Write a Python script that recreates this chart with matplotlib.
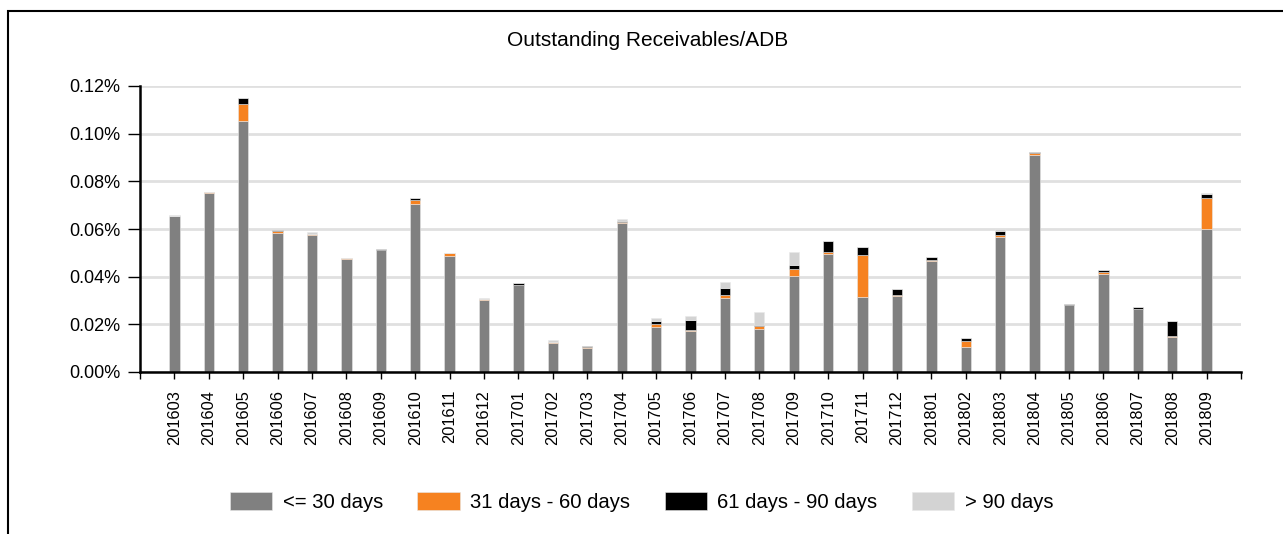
import matplotlib
matplotlib.use("Agg")
import matplotlib.pyplot as plt
import numpy as np
from matplotlib.patches import Rectangle

plt.rcParams['font.family'] = ['Liberation Sans', 'DejaVu Sans']

months = ['201603', '201604', '201605', '201606', '201607', '201608', '201609', '201610',
          '201611', '201612', '201701', '201702', '201703', '201704', '201705', '201706',
          '201707', '201708', '201709', '201710', '201711', '201712', '201801', '201802',
          '201803', '201804', '201805', '201806', '201807', '201808', '201809']

# values in percent
le30 = [0.0655, 0.0752, 0.1053, 0.0582, 0.0574, 0.0474, 0.0513, 0.0706, 0.0488, 0.0303,
        0.0364, 0.0123, 0.0099, 0.0627, 0.0189, 0.0172, 0.0312, 0.0180, 0.0404, 0.0496,
        0.0313, 0.0319, 0.0464, 0.0104, 0.0568, 0.0911, 0.0280, 0.0410, 0.0266, 0.0147, 0.0600]
d31_60 = [0.0, 0.0004, 0.0071, 0.0008, 0.0004, 0.0004, 0.0, 0.0017, 0.0010, 0.0005,
          0.0, 0.0004, 0.0005, 0.0004, 0.0014, 0.0004, 0.0013, 0.0013, 0.0027, 0.0006,
          0.0179, 0.0004, 0.0006, 0.0027, 0.0007, 0.0007, 0.0, 0.0011, 0.0, 0.0004, 0.0130]
d61_90 = [0.0, 0.0, 0.0025, 0.0006, 0.0003, 0.0, 0.0005, 0.0007, 0.0, 0.0,
          0.0008, 0.0, 0.0004, 0.0002, 0.0013, 0.0043, 0.0029, 0.0006, 0.0017, 0.0049,
          0.0034, 0.0025, 0.0013, 0.0010, 0.0018, 0.0004, 0.0007, 0.0006, 0.0005, 0.0063, 0.0018]
gt90 = [0.0002, 0.0, 0.0, 0.0, 0.0007, 0.0, 0.0, 0.0, 0.0, 0.0003,
        0.0, 0.0007, 0.0, 0.0007, 0.0010, 0.0014, 0.0022, 0.0053, 0.0055, 0.0,
        0.0, 0.0, 0.0, 0.0, 0.0005, 0.0, 0.0, 0.0, 0.0, 0.0, 0.0004]

series = [
    ("<= 30 days", le30, "#808080"),
    ("31 days - 60 days", d31_60, "#f68220"),
    ("61 days - 90 days", d61_90, "#000000"),
    ("> 90 days", gt90, "#d3d3d3"),
]

W, H = 1283, 534
fig = plt.figure(figsize=(W / 100, H / 100), dpi=100)
ax = fig.add_axes([140 / W, 1 - 372 / H, (1241 - 140) / W, (372 - 86) / H])

x = np.arange(len(months))
bottom = np.zeros(len(months))
for label, vals, color in series:
    vals = np.array(vals)
    ax.bar(x, vals, width=0.3, bottom=bottom, color=color, label=label,
           edgecolor="#e8e8e8", linewidth=0.4, zorder=3)
    bottom += vals

ax.set_xlim(-1, len(months))
ax.set_ylim(0, 0.12)
yt = np.arange(0, 0.121, 0.02)
ax.set_yticks(yt)
ax.set_yticklabels([f"{v:.2f}%" for v in yt], fontsize=13)
ax.yaxis.grid(True, color="#e0e0e0", lw=2, zorder=0)
ax.tick_params(axis="y", length=9, width=1, pad=5)

ax.set_xticks(np.arange(-1, len(months) + 1))
ax.set_xticklabels([""] + months + [""], rotation=90, fontsize=11.8)
ax.tick_params(axis="x", length=5, width=1, pad=8)

for s in ["top", "right"]:
    ax.spines[s].set_visible(False)
ax.spines["left"].set_linewidth(1.8)
ax.spines["bottom"].set_linewidth(1.8)
ax.spines["left"].set_zorder(4)
ax.spines["bottom"].set_zorder(4)

fig.text(648 / W, 1 - 41 / H, "Outstanding Receivables/ADB", ha="center", va="center", fontsize=15)

fig.legend(loc="center", bbox_to_anchor=(0.5, 1 - 502 / H), ncol=4, frameon=False,
           fontsize=14.6, handlelength=2.1, handleheight=1.0, handletextpad=0.5,
           columnspacing=1.7)

fig.patches.append(Rectangle((8 / W, -0.1), 1.2, 1 - 11 / H + 0.1, transform=fig.transFigure,
                             fill=False, edgecolor="black", lw=1.5, clip_on=False))

fig.savefig("out.png", dpi=100)
